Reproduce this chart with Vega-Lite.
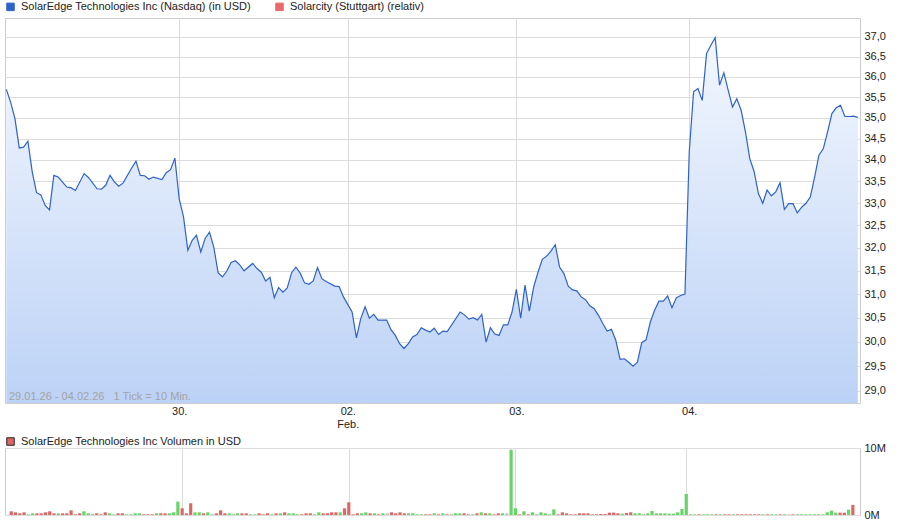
{
  "$schema": "https://vega.github.io/schema/vega-lite/v6.json",
  "padding": {"left": 3, "top": 1, "right": 0, "bottom": 0},
  "background": "white",
  "spacing": 5,
  "config": {
    "font": "Liberation Sans",
    "view": {"stroke": "#cccccc", "strokeWidth": 1},
    "axis": {"labelFont": "Liberation Sans", "labelFontSize": 11, "labelColor": "#222222", "gridColor": "#dcdcdc", "gridWidth": 1, "domain": false, "ticks": false, "title": null, "labelOverlap": false},
    "legend": {"labelFont": "Liberation Sans", "labelFontSize": 11, "labelColor": "#222222", "labelLimit": 400, "title": null, "orient": "top", "direction": "horizontal", "symbolType": "square", "symbolSize": 56, "padding": 0, "offset": 4, "columnPadding": 22, "labelOffset": 5}
  },
  "datasets": {
    "price": [
      {"i":0,"v":35.69},{"i":1,"v":35.38},{"i":2,"v":34.98},{"i":3,"v":34.28},{"i":4,"v":34.30},{"i":5,"v":34.44},{"i":6,"v":33.72},{"i":7,"v":33.24},{"i":8,"v":33.19},{"i":9,"v":32.95},{"i":10,"v":32.85},{"i":11,"v":33.64},{"i":12,"v":33.60},{"i":14,"v":33.37},{"i":15,"v":33.35},{"i":16,"v":33.29},{"i":18,"v":33.68},{"i":19,"v":33.59},{"i":21,"v":33.33},{"i":22,"v":33.32},{"i":23,"v":33.41},{"i":24,"v":33.64},{"i":25,"v":33.49},{"i":26,"v":33.39},{"i":27,"v":33.46},{"i":29,"v":33.81},{"i":30,"v":33.97},{"i":31,"v":33.64},{"i":32,"v":33.63},{"i":33,"v":33.55},{"i":34,"v":33.60},{"i":36,"v":33.54},{"i":37,"v":33.70},{"i":38,"v":33.77},{"i":39,"v":34.04},
      {"i":40,"v":33.10},{"i":41,"v":32.69},{"i":42,"v":31.95},{"i":43,"v":32.17},{"i":44,"v":32.28},{"i":45,"v":31.91},{"i":46,"v":32.21},{"i":47,"v":32.35},{"i":48,"v":32.02},{"i":49,"v":31.46},{"i":50,"v":31.37},{"i":51,"v":31.49},{"i":52,"v":31.68},{"i":53,"v":31.72},{"i":54,"v":31.63},{"i":55,"v":31.50},{"i":57,"v":31.66},{"i":58,"v":31.55},{"i":59,"v":31.47},{"i":60,"v":31.28},{"i":61,"v":31.36},{"i":62,"v":30.92},{"i":63,"v":31.14},{"i":64,"v":31.04},{"i":65,"v":31.13},{"i":66,"v":31.46},{"i":67,"v":31.58},{"i":68,"v":31.45},{"i":69,"v":31.24},{"i":70,"v":31.21},{"i":71,"v":31.28},{"i":72,"v":31.57},{"i":73,"v":31.33},{"i":74,"v":31.27},{"i":76,"v":31.17},{"i":77,"v":31.16},{"i":78,"v":30.94},
      {"i":80,"v":30.62},{"i":81,"v":30.08},{"i":82,"v":30.48},{"i":83,"v":30.73},{"i":84,"v":30.49},{"i":85,"v":30.57},{"i":86,"v":30.45},{"i":88,"v":30.45},{"i":89,"v":30.25},{"i":90,"v":30.13},{"i":91,"v":29.96},{"i":92,"v":29.86},{"i":93,"v":29.96},{"i":94,"v":30.10},{"i":95,"v":30.15},{"i":96,"v":30.29},{"i":97,"v":30.24},{"i":98,"v":30.20},{"i":99,"v":30.28},{"i":100,"v":30.15},{"i":101,"v":30.22},{"i":102,"v":30.21},{"i":105,"v":30.62},{"i":106,"v":30.56},{"i":107,"v":30.47},{"i":108,"v":30.50},{"i":109,"v":30.45},{"i":110,"v":30.57},{"i":111,"v":29.99},{"i":112,"v":30.29},{"i":113,"v":30.16},{"i":114,"v":30.13},{"i":115,"v":30.35},{"i":116,"v":30.35},{"i":117,"v":30.62},
      {"i":118,"v":31.10},{"i":119,"v":30.49},{"i":120,"v":31.19},{"i":121,"v":30.64},{"i":122,"v":31.15},{"i":123,"v":31.47},{"i":124,"v":31.75},{"i":125,"v":31.82},{"i":126,"v":31.93},{"i":127,"v":32.07},{"i":128,"v":31.58},{"i":129,"v":31.44},{"i":130,"v":31.17},{"i":131,"v":31.09},{"i":132,"v":31.07},{"i":133,"v":30.94},{"i":134,"v":30.88},{"i":135,"v":30.75},{"i":136,"v":30.69},{"i":137,"v":30.55},{"i":138,"v":30.38},{"i":139,"v":30.22},{"i":140,"v":30.26},{"i":141,"v":30.03},{"i":142,"v":29.64},{"i":143,"v":29.65},{"i":144,"v":29.58},{"i":145,"v":29.50},{"i":146,"v":29.58},{"i":147,"v":29.98},{"i":148,"v":30.04},{"i":149,"v":30.41},{"i":150,"v":30.66},{"i":151,"v":30.85},{"i":152,"v":30.85},{"i":153,"v":30.96},{"i":154,"v":30.71},{"i":155,"v":30.92},{"i":156,"v":30.97},{"i":157,"v":31.00},
      {"i":158,"v":34.19},{"i":159,"v":35.63},{"i":160,"v":35.71},{"i":161,"v":35.42},{"i":162,"v":36.58},{"i":163,"v":36.79},{"i":164,"v":36.98},{"i":165,"v":35.79},{"i":166,"v":36.10},{"i":167,"v":35.67},{"i":168,"v":35.26},{"i":169,"v":35.46},{"i":170,"v":35.18},{"i":171,"v":34.66},{"i":172,"v":34.03},{"i":173,"v":33.73},{"i":174,"v":33.22},{"i":175,"v":33.00},{"i":176,"v":33.30},{"i":177,"v":33.17},{"i":178,"v":33.26},{"i":179,"v":33.47},{"i":180,"v":32.86},{"i":181,"v":32.99},{"i":182,"v":32.99},{"i":183,"v":32.78},{"i":184,"v":32.91},{"i":185,"v":33.00},{"i":186,"v":33.14},{"i":187,"v":33.60},{"i":188,"v":34.11},{"i":189,"v":34.26},{"i":190,"v":34.66},{"i":191,"v":35.10},{"i":192,"v":35.24},{"i":193,"v":35.30},{"i":194,"v":35.03},{"i":195,"v":35.03},{"i":196,"v":35.04},{"i":197,"v":35.01}
    ],
    "volume": [
      {"i":0,"vol":550000,"dir":"down"},{"i":1,"vol":400000,"dir":"down"},{"i":2,"vol":250000,"dir":"down"},{"i":3,"vol":400000,"dir":"down"},{"i":4,"vol":100000,"dir":"up"},{"i":5,"vol":250000,"dir":"up"},{"i":6,"vol":250000,"dir":"down"},{"i":7,"vol":250000,"dir":"down"},{"i":8,"vol":400000,"dir":"down"},{"i":9,"vol":550000,"dir":"down"},{"i":10,"vol":250000,"dir":"down"},{"i":11,"vol":250000,"dir":"up"},{"i":12,"vol":250000,"dir":"down"},{"i":13,"vol":250000,"dir":"down"},{"i":14,"vol":700000,"dir":"down"},{"i":15,"vol":100000,"dir":"down"},{"i":16,"vol":250000,"dir":"down"},{"i":17,"vol":550000,"dir":"up"},{"i":18,"vol":250000,"dir":"up"},{"i":19,"vol":100000,"dir":"down"},{"i":20,"vol":250000,"dir":"down"},{"i":21,"vol":100000,"dir":"down"},{"i":22,"vol":400000,"dir":"down"},{"i":23,"vol":250000,"dir":"up"},{"i":24,"vol":100000,"dir":"up"},{"i":25,"vol":250000,"dir":"down"},{"i":26,"vol":250000,"dir":"down"},{"i":27,"vol":100000,"dir":"up"},{"i":28,"vol":100000,"dir":"up"},{"i":29,"vol":250000,"dir":"up"},{"i":30,"vol":250000,"dir":"up"},{"i":31,"vol":100000,"dir":"down"},{"i":32,"vol":100000,"dir":"down"},{"i":33,"vol":100000,"dir":"down"},{"i":34,"vol":250000,"dir":"up"},{"i":35,"vol":250000,"dir":"down"},{"i":36,"vol":250000,"dir":"down"},{"i":37,"vol":250000,"dir":"up"},{"i":38,"vol":400000,"dir":"up"},{"i":39,"vol":2000000,"dir":"up"},
      {"i":40,"vol":1000000,"dir":"down"},{"i":41,"vol":250000,"dir":"down"},{"i":42,"vol":1750000,"dir":"down"},{"i":43,"vol":400000,"dir":"up"},{"i":44,"vol":400000,"dir":"up"},{"i":45,"vol":250000,"dir":"down"},{"i":46,"vol":400000,"dir":"up"},{"i":47,"vol":100000,"dir":"up"},{"i":48,"vol":250000,"dir":"down"},{"i":49,"vol":700000,"dir":"down"},{"i":50,"vol":250000,"dir":"down"},{"i":51,"vol":250000,"dir":"up"},{"i":52,"vol":100000,"dir":"up"},{"i":53,"vol":250000,"dir":"up"},{"i":54,"vol":250000,"dir":"down"},{"i":55,"vol":250000,"dir":"down"},{"i":56,"vol":100000,"dir":"up"},{"i":57,"vol":100000,"dir":"up"},{"i":58,"vol":250000,"dir":"down"},{"i":59,"vol":100000,"dir":"down"},{"i":60,"vol":250000,"dir":"down"},{"i":61,"vol":100000,"dir":"up"},{"i":62,"vol":250000,"dir":"down"},{"i":63,"vol":250000,"dir":"up"},{"i":64,"vol":400000,"dir":"down"},{"i":65,"vol":250000,"dir":"up"},{"i":66,"vol":250000,"dir":"up"},{"i":67,"vol":100000,"dir":"up"},{"i":68,"vol":100000,"dir":"down"},{"i":69,"vol":250000,"dir":"down"},{"i":70,"vol":250000,"dir":"down"},{"i":71,"vol":100000,"dir":"up"},{"i":72,"vol":400000,"dir":"up"},{"i":73,"vol":250000,"dir":"down"},{"i":74,"vol":250000,"dir":"down"},{"i":75,"vol":400000,"dir":"down"},{"i":76,"vol":400000,"dir":"down"},{"i":77,"vol":400000,"dir":"up"},{"i":78,"vol":1000000,"dir":"down"},
      {"i":79,"vol":1900000,"dir":"down"},{"i":80,"vol":100000,"dir":"down"},{"i":81,"vol":250000,"dir":"down"},{"i":82,"vol":250000,"dir":"up"},{"i":83,"vol":400000,"dir":"up"},{"i":84,"vol":250000,"dir":"down"},{"i":85,"vol":250000,"dir":"up"},{"i":86,"vol":100000,"dir":"down"},{"i":87,"vol":250000,"dir":"up"},{"i":88,"vol":250000,"dir":"flat"},{"i":89,"vol":400000,"dir":"down"},{"i":90,"vol":250000,"dir":"down"},{"i":91,"vol":400000,"dir":"down"},{"i":92,"vol":250000,"dir":"down"},{"i":93,"vol":250000,"dir":"up"},{"i":94,"vol":250000,"dir":"up"},{"i":95,"vol":100000,"dir":"up"},{"i":96,"vol":100000,"dir":"up"},{"i":97,"vol":100000,"dir":"down"},{"i":98,"vol":100000,"dir":"down"},{"i":99,"vol":250000,"dir":"up"},{"i":100,"vol":100000,"dir":"down"},{"i":101,"vol":250000,"dir":"up"},{"i":102,"vol":100000,"dir":"down"},{"i":103,"vol":100000,"dir":"up"},{"i":104,"vol":250000,"dir":"up"},{"i":105,"vol":250000,"dir":"up"},{"i":106,"vol":250000,"dir":"down"},{"i":107,"vol":100000,"dir":"down"},{"i":108,"vol":100000,"dir":"up"},{"i":109,"vol":250000,"dir":"down"},{"i":110,"vol":400000,"dir":"up"},{"i":111,"vol":250000,"dir":"down"},{"i":112,"vol":250000,"dir":"up"},{"i":113,"vol":100000,"dir":"down"},{"i":114,"vol":250000,"dir":"down"},{"i":115,"vol":250000,"dir":"up"},{"i":116,"vol":250000,"dir":"flat"},{"i":117,"vol":9750000,"dir":"up"},
      {"i":118,"vol":1000000,"dir":"up"},{"i":119,"vol":100000,"dir":"down"},{"i":120,"vol":550000,"dir":"up"},{"i":121,"vol":100000,"dir":"down"},{"i":122,"vol":400000,"dir":"up"},{"i":123,"vol":100000,"dir":"up"},{"i":124,"vol":400000,"dir":"up"},{"i":125,"vol":250000,"dir":"up"},{"i":126,"vol":100000,"dir":"up"},{"i":127,"vol":850000,"dir":"up"},{"i":128,"vol":100000,"dir":"down"},{"i":129,"vol":400000,"dir":"down"},{"i":130,"vol":250000,"dir":"down"},{"i":131,"vol":100000,"dir":"down"},{"i":132,"vol":100000,"dir":"down"},{"i":133,"vol":250000,"dir":"down"},{"i":134,"vol":250000,"dir":"down"},{"i":135,"vol":250000,"dir":"down"},{"i":136,"vol":100000,"dir":"down"},{"i":137,"vol":100000,"dir":"down"},{"i":138,"vol":150000,"dir":"down"},{"i":139,"vol":150000,"dir":"down"},{"i":140,"vol":350000,"dir":"down"},{"i":141,"vol":350000,"dir":"down"},{"i":142,"vol":250000,"dir":"down"},{"i":143,"vol":200000,"dir":"up"},{"i":144,"vol":300000,"dir":"down"},{"i":145,"vol":400000,"dir":"down"},{"i":146,"vol":250000,"dir":"up"},{"i":147,"vol":250000,"dir":"up"},{"i":148,"vol":100000,"dir":"up"},{"i":149,"vol":250000,"dir":"up"},{"i":150,"vol":600000,"dir":"up"},{"i":151,"vol":250000,"dir":"up"},{"i":152,"vol":250000,"dir":"up"},{"i":153,"vol":250000,"dir":"up"},{"i":154,"vol":200000,"dir":"up"},{"i":155,"vol":200000,"dir":"up"},{"i":156,"vol":400000,"dir":"up"},{"i":157,"vol":900000,"dir":"up"},
      {"i":158,"vol":3150000,"dir":"up"},{"i":159,"vol":100000,"dir":"up"},{"i":160,"vol":100000,"dir":"up"},{"i":161,"vol":100000,"dir":"down"},{"i":162,"vol":100000,"dir":"up"},{"i":163,"vol":100000,"dir":"up"},{"i":164,"vol":100000,"dir":"up"},{"i":165,"vol":100000,"dir":"down"},{"i":166,"vol":100000,"dir":"up"},{"i":167,"vol":100000,"dir":"down"},{"i":168,"vol":100000,"dir":"down"},{"i":169,"vol":100000,"dir":"up"},{"i":170,"vol":100000,"dir":"down"},{"i":171,"vol":100000,"dir":"down"},{"i":172,"vol":100000,"dir":"down"},{"i":173,"vol":100000,"dir":"down"},{"i":174,"vol":100000,"dir":"down"},{"i":175,"vol":100000,"dir":"down"},{"i":176,"vol":100000,"dir":"up"},{"i":177,"vol":100000,"dir":"down"},{"i":178,"vol":100000,"dir":"up"},{"i":179,"vol":100000,"dir":"up"},{"i":180,"vol":100000,"dir":"down"},{"i":181,"vol":100000,"dir":"up"},{"i":182,"vol":100000,"dir":"flat"},{"i":183,"vol":100000,"dir":"down"},{"i":184,"vol":100000,"dir":"up"},{"i":185,"vol":100000,"dir":"up"},{"i":186,"vol":100000,"dir":"up"},{"i":187,"vol":100000,"dir":"up"},{"i":188,"vol":100000,"dir":"up"},{"i":189,"vol":100000,"dir":"up"},{"i":190,"vol":100000,"dir":"up"},{"i":191,"vol":400000,"dir":"up"},{"i":192,"vol":650000,"dir":"up"},{"i":193,"vol":350000,"dir":"up"},{"i":194,"vol":350000,"dir":"down"},{"i":195,"vol":350000,"dir":"down"},{"i":196,"vol":800000,"dir":"up"},{"i":197,"vol":1500000,"dir":"down"}
    ]
  },
  "vconcat": [
    {
      "width": 855,
      "height": 385,
      "layer": [
        {
          "data": {"name": "price"},
          "mark": {"type": "area", "fill": {"gradient": "linear", "x1": 0, "y1": 0, "x2": 0, "y2": 1, "stops": [{"offset": 0, "color": "#f3f7fe"}, {"offset": 1, "color": "#bcd2f6"}]}, "fillOpacity": 1, "stroke": null},
          "encoding": {
            "x": {"field": "i", "type": "quantitative", "scale": {"domain": [-0.3, 197.5], "nice": false, "zero": false},
              "axis": {"values": [40, 79, 118, 158], "grid": true, "labelPadding": 2, "labelLineHeight": 13, "labelBaseline": "top",
                "labelExpr": "datum.value == 40 ? '30.' : datum.value == 79 ? ['02.', 'Feb.'] : datum.value == 118 ? '03.' : '04.'"}},
            "y": {"field": "v", "type": "quantitative", "stack": null, "scale": {"type": "log", "domain": [28.761, 37.487], "nice": false, "zero": false},
              "axis": {"orient": "right", "values": [29, 29.5, 30, 30.5, 31, 31.5, 32, 32.5, 33, 33.5, 34, 34.5, 35, 35.5, 36, 36.5, 37], "grid": true, "labelPadding": 4,
                "labelExpr": "replace(format(datum.value, '.1f'), '.', ',')"}},
            "y2": {"datum": 28.761}
          }
        },
        {
          "data": {"name": "price"},
          "mark": {"type": "line", "strokeWidth": 1.2},
          "encoding": {
            "x": {"field": "i", "type": "quantitative"},
            "y": {"field": "v", "type": "quantitative"},
            "color": {"datum": "SolarEdge Technologies Inc (Nasdaq) (in USD)",
              "scale": {"domain": ["SolarEdge Technologies Inc (Nasdaq) (in USD)", "Solarcity (Stuttgart) (relativ)"], "range": ["#2f62c6", "#e8696b"]},
              "legend": {"encode": {"symbols": {"update": {"fill": {"scale": "color", "field": "value"}, "stroke": {"value": "#333333"}, "strokeWidth": {"value": 1}, "opacity": {"value": 1}}}}}}
          }
        },
        {
          "data": {"values": [{}]},
          "mark": {"type": "text", "align": "left", "baseline": "alphabetic", "dx": 4, "dy": -3, "fontSize": 11, "color": "#a3a3a3"},
          "encoding": {
            "x": {"datum": -0.3},
            "y": {"datum": 28.761},
            "text": {"value": "29.01.26 - 04.02.26\u00a0\u00a0\u00a01 Tick = 10 Min."}
          }
        }
      ]
    },
    {
      "width": 855,
      "height": 67,
      "layer": [
        {
          "data": {"name": "volume"},
          "mark": {"type": "bar", "size": 3.2},
          "encoding": {
            "x": {"field": "i", "type": "quantitative", "scale": {"domain": [-0.3, 197.5], "nice": false, "zero": false},
              "axis": {"values": [40, 79, 118, 158], "grid": true, "labels": false}},
            "y": {"field": "vol", "type": "quantitative", "scale": {"domain": [0, 10000000], "nice": false},
              "axis": {"orient": "right", "values": [0, 5000000, 10000000], "grid": true, "labelPadding": 4, "labelExpr": "format(datum.value / 1000000, 'd') + 'M'"}},
            "color": {"field": "dir", "type": "nominal", "scale": {"domain": ["up", "down", "flat"], "range": ["#66d466", "#e06666", "#c4c4c4"]}, "legend": null}
          }
        },
        {
          "data": {"values": [{"s": "SolarEdge Technologies Inc Volumen in USD"}]},
          "mark": {"type": "bar"},
          "encoding": {
            "x": {"datum": 0},
            "y": {"datum": 0},
            "color": {"field": "s", "type": "nominal", "scale": {"range": ["#e06666"]},
              "legend": {"offset": 0, "encode": {"symbols": {"update": {"fill": {"value": "#e06666"}, "stroke": {"value": "#222222"}, "strokeWidth": {"value": 1}, "opacity": {"value": 1}}}}}}
          }
        }
      ],
      "resolve": {"scale": {"color": "independent"}}
    }
  ]
}
